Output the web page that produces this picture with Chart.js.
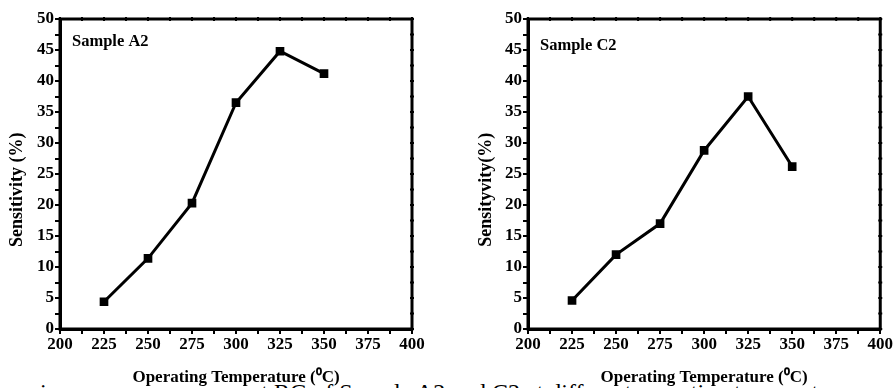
<!DOCTYPE html>
<html>
<head>
<meta charset="utf-8">
<script src="https://cdn.jsdelivr.net/npm/chart.js@4/dist/chart.umd.min.js"></script>
<style>
  body { margin: 0; background: #fff; }
  #page { position: relative; width: 893px; height: 388px; overflow: hidden; }
  .box { position: absolute; top: 0; height: 388px; }
  #caption {
    position: absolute; left: 40px; top: 379px; white-space: nowrap;
    font: 24px "Liberation Serif", serif; color: #000;
  }
</style>
</head>
<body>
<div id="page">
  <div id="caption">i&nbsp;&nbsp;&nbsp;&nbsp;&nbsp;&nbsp;&nbsp;&nbsp;&nbsp;&nbsp;&nbsp;&nbsp;&nbsp;&nbsp;&nbsp;&nbsp;&nbsp;&nbsp;&nbsp;&nbsp;&nbsp;&nbsp;&nbsp;&nbsp;&nbsp;&nbsp;&nbsp;&nbsp;&nbsp;&nbsp;&nbsp;&nbsp;&nbsp;&nbsp;at RG of Sample A2 and C2 at different operating temperatures</div>
  <div class="box" style="left:0;width:440px"><canvas id="chartA"></canvas></div>
  <div class="box" style="left:440px;width:453px"><canvas id="chartC"></canvas></div>
</div>
<script>
// 측정 데이터 (동작 온도별 감도)
const temps = [225, 250, 275, 300, 325, 350];
const sensA2 = [4.4, 11.4, 20.3, 36.5, 44.8, 41.2];
const sensC2 = [4.6, 12.0, 17.0, 28.8, 37.5, 26.2];
const xTickLabels = [200, 225, 250, 275, 300, 325, 350, 375, 400];
const yTickLabels = [0, 5, 10, 15, 20, 25, 30, 35, 40, 45, 50];

const FONT = "'Liberation Serif', 'Times New Roman', serif";
const SHIFT = "\u00a0".repeat(7); // 세로 제목을 조금 아래로

// 위쪽/오른쪽 테두리와 작은 눈금
const frame = {
    id: "frame",
    afterDraw(chart) {
        const { ctx, chartArea: a, scales } = chart;
        ctx.save();
        ctx.strokeStyle = "#000";
        ctx.lineWidth = 3;
        ctx.strokeRect(a.left, a.top, a.right - a.left, a.bottom - a.top);
        ctx.lineWidth = 2;
        for (let v = 200; v <= 400; v += 12.5) {
            const x = scales.x.getPixelForValue(v);
            ctx.beginPath(); ctx.moveTo(x, a.top - 2); ctx.lineTo(x, a.top + 2); ctx.stroke();
        }
        for (let v = 0; v <= 50; v += 2.5) {
            const y = scales.y.getPixelForValue(v);
            ctx.beginPath(); ctx.moveTo(a.right - 2, y); ctx.lineTo(a.right + 2, y); ctx.stroke();
        }
        ctx.restore();
    }
};

// 샘플 이름
const sampleLabel = {
    id: "sampleLabel",
    afterDraw(chart, args, opts) {
        const { ctx, chartArea: a } = chart;
        ctx.save();
        ctx.font = "bold 16.5px " + FONT;
        ctx.fillStyle = "#000";
        ctx.textBaseline = "middle";
        ctx.fillText(opts.text, a.left + opts.dx, a.top + opts.dy);
        ctx.restore();
    }
};

function makeChart(id, values, name, yTitle, yWidth, padLeft, padRight, labelDx, labelDy, xTitlePad, yTitlePad) {
    new Chart(document.getElementById(id), {
        type: "line",
        data: {
            datasets: [{
                label: name,
                data: temps.map((t, i) => ({ x: t, y: values[i] })),
                borderColor: "#000",
                backgroundColor: "#000",
                borderWidth: 3,
                pointStyle: "rect",
                pointRadius: 4,
                pointHoverRadius: 4,
                tension: 0
            }]
        },
        options: {
            responsive: true,
            maintainAspectRatio: false,
            animation: false,
            layout: { padding: { top: 19, right: padRight, left: padLeft, bottom: 0 } },
            plugins: {
                legend: { display: false },
                tooltip: { enabled: false },
                sampleLabel: { text: name, dx: labelDx, dy: labelDy }
            },
            scales: {
                x: {
                    type: "linear",
                    min: 200, max: 400,
                    afterBuildTicks: s => {
                        const t = [];
                        for (let v = 200; v <= 400; v += 12.5) t.push({ value: v });
                        s.ticks = t;
                    },
                    afterFit: s => { s.height = 59; },
                    grid: { drawOnChartArea: false, color: "#000", lineWidth: 2, tickLength: 5 },
                    border: { color: "#000", width: 3 },
                    ticks: {
                        color: "#000",
                        font: { family: FONT, size: 17, weight: "bold" },
                        padding: 0,
                        maxRotation: 0,
                        autoSkip: false,
                        callback: v => xTickLabels.includes(v) ? v : ""
                    },
                    title: {
                        display: true,
                        text: "Operating Temperature (\u2070C)",
                        color: "#000",
                        font: { family: FONT, size: 17, weight: "bold" },
                        padding: { top: xTitlePad, bottom: 0 }
                    }
                },
                y: {
                    min: 0, max: 50,
                    afterBuildTicks: s => {
                        const t = [];
                        for (let v = 0; v <= 50; v += 2.5) t.push({ value: v });
                        s.ticks = t;
                    },
                    afterFit: s => { s.width = yWidth; },
                    grid: { drawOnChartArea: false, color: "#000", lineWidth: 2, tickLength: 5 },
                    border: { color: "#000", width: 3 },
                    ticks: {
                        color: "#000",
                        font: { family: FONT, size: 17, weight: "bold" },
                        padding: 1,
                        autoSkip: false,
                        callback: v => yTickLabels.includes(v) ? v : ""
                    },
                    title: {
                        display: true,
                        text: yTitle + SHIFT,
                        color: "#000",
                        font: { family: FONT, size: 18, weight: "bold" },
                        padding: { top: yTitlePad, bottom: 0 }
                    }
                }
            }
        },
        plugins: [frame, sampleLabel]
    });
}

makeChart("chartA", sensA2, "Sample A2", "Sensitivity (%)", 60, 0, 28, 12, 23, 14, 7);
makeChart("chartC", sensC2, "Sample C2", "Sensityvity(%)", 58, 30, 11, 12, 27, 7, 6);
</script>
</body>
</html>
